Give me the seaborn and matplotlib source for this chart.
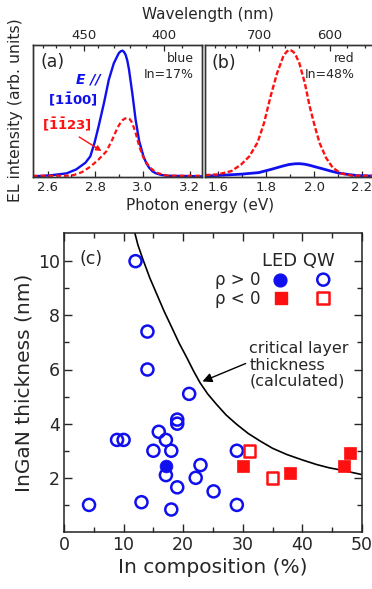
import matplotlib
matplotlib.use("Agg")
import matplotlib.pyplot as plt
import seaborn as sns

# ---------------- data ----------------
# Panel (a): blue LED, In=17%
Ea_blue = [2.537, 2.61, 2.68, 2.72, 2.759, 2.78, 2.798, 2.815, 2.837, 2.858, 2.879, 2.892, 2.90,
           2.908, 2.915, 2.922, 2.929, 2.936, 2.943, 2.957, 2.971, 2.986, 3.004, 3.016, 3.028,
           3.042, 3.057, 3.08, 3.106, 3.255]
Ia_blue = [0.0, 0.008, 0.024, 0.055, 0.108, 0.16, 0.27, 0.40, 0.58, 0.77, 0.90, 0.95, 0.98,
           0.995, 1.0, 0.99, 0.966, 0.92, 0.85, 0.66, 0.45, 0.28, 0.16, 0.105, 0.069,
           0.04, 0.024, 0.011, 0.005, 0.0]
Ea_red = [2.537, 2.68, 2.709, 2.745, 2.78, 2.815, 2.848, 2.872, 2.894, 2.905, 2.915, 2.926,
          2.936, 2.945, 2.953, 2.962, 2.971, 2.986, 3.004, 3.028, 3.057, 3.106, 3.255]
Ia_red = [0.005, 0.005, 0.01, 0.034, 0.077, 0.135, 0.20, 0.29, 0.385, 0.42, 0.446, 0.46,
          0.465, 0.457, 0.438, 0.395, 0.346, 0.24, 0.148, 0.077, 0.03, 0.005, 0.005]

# Panel (b): red LED, In=48%
Eb_red = [1.547, 1.60, 1.656, 1.697, 1.731, 1.765, 1.792, 1.819, 1.846, 1.871, 1.883, 1.894,
          1.904, 1.914, 1.926, 1.939, 1.962, 1.982, 2.003, 2.023, 2.05, 2.078, 2.112, 2.159, 2.254]
Ib_red = [0.01, 0.016, 0.042, 0.095, 0.16, 0.27, 0.425, 0.636, 0.82, 0.95, 0.985, 1.005,
          1.002, 0.99, 0.955, 0.90, 0.74, 0.556, 0.40, 0.267, 0.148, 0.069, 0.024, 0.005, 0.005]
Eb_blue = [1.547, 1.608, 1.70, 1.77, 1.82, 1.866, 1.895, 1.92, 1.94, 1.96, 1.98, 2.003, 2.04,
           2.07, 2.10, 2.139, 2.18, 2.254]
Ib_blue = [0.003, 0.008, 0.018, 0.03, 0.055, 0.08, 0.094, 0.10, 0.101, 0.097, 0.089, 0.077,
           0.058, 0.042, 0.028, 0.016, 0.006, 0.002]

wl_major_a = [450, 400]
wl_minor_a = [480, 470, 460, 440, 430, 420, 410, 390, 380]
wl_major_b = [700, 600]
wl_minor_b = [780, 760, 740, 720, 680, 660, 640, 620, 580, 560]

# Panel (c)
qw_pos_x = [4.2, 8.9, 10.0, 12.0, 13.0, 14.0, 14.0, 15.0, 15.9, 17.1, 17.1, 18.0, 18.0, 19.0,
            19.0, 19.0, 21.0, 22.1, 22.9, 25.1, 29.0, 29.0]
qw_pos_y = [1.0, 3.4, 3.4, 10.0, 1.1, 7.4, 6.0, 3.0, 3.7, 3.4, 2.1, 3.0, 0.83, 4.15,
            4.0, 1.65, 5.1, 2.0, 2.47, 1.5, 3.0, 1.0]
led_pos_x = [17.1]
led_pos_y = [2.45]
qw_neg_x = [31.1, 35.0]
qw_neg_y = [3.0, 2.0]
led_neg_x = [30.0, 38.0, 47.0, 48.0]
led_neg_y = [2.43, 2.18, 2.45, 2.93]

crit_x = [11.63, 12.4, 13.3, 14.4, 15.55, 16.8, 18.07, 19.3, 20.6, 21.7, 22.8, 24.1, 25.6,
          27.2, 29.0, 30.9, 32.9, 35.0, 37.4, 40.0, 42.4, 44.5, 46.9, 48.5, 50.0]
crit_y = [11.26, 10.6, 10.03, 9.38, 8.79, 8.15, 7.56, 6.98, 6.44, 5.96, 5.52, 5.10, 4.71,
          4.32, 3.97, 3.64, 3.36, 3.09, 2.86, 2.66, 2.49, 2.37, 2.27, 2.19, 2.12]

# ---------------- style ----------------
sns.set_theme(style="ticks")
plt.rcParams['font.family'] = ['DejaVu Sans']
plt.rcParams['mathtext.fontset'] = 'dejavusans'

TXT = "#262626"
BLUE = "#1010ee"
RED = "#ff1010"
HC = 1239.84

W, H = 372, 589
fig = plt.figure(figsize=(W / 100, H / 100), dpi=100)


def rect(l, t, r, b):
    return [l / W, 1 - b / H, (r - l) / W, (b - t) / H]


ax_a = fig.add_axes(rect(33, 45, 202, 177))
ax_b = fig.add_axes(rect(205, 45, 375, 177))
ax_c = fig.add_axes(rect(64, 233, 362, 532))


def style_top(ax, xlim, major, minor, wl_major, wl_minor):
    ax.set_xlim(*xlim)
    ax.set_ylim(-0.005, 1.045)
    ax.set_yticks([])
    ax.set_xticks(major)
    ax.set_xticks(minor, minor=True)
    ax.set_xticklabels([f"{v:.1f}" for v in major])
    ax.tick_params(axis='x', which='major', direction='in', length=4, width=0.9,
                   labelsize=9.5, pad=3, colors=TXT)
    ax.tick_params(axis='x', which='minor', direction='in', length=2.5, width=0.9, colors=TXT)
    for s in ax.spines.values():
        s.set_linewidth(1.0)
        s.set_color("#333333")
    ax2 = ax.twiny()
    ax2.set_xlim(*xlim)
    ax2.set_xticks([HC / w for w in wl_major])
    ax2.set_xticklabels([str(w) for w in wl_major])
    ax2.set_xticks([HC / w for w in wl_minor], minor=True)
    ax2.tick_params(axis='x', which='major', direction='in', length=4, width=0.9,
                    labelsize=9.5, pad=2, colors=TXT)
    ax2.tick_params(axis='x', which='minor', direction='in', length=2.5, width=0.9, colors=TXT)
    for s in ax2.spines.values():
        s.set_linewidth(1.0)
        s.set_color("#333333")
    return ax2


# Panel (a)
sns.lineplot(x=Ea_blue, y=Ia_blue, ax=ax_a, sort=False, estimator=None, color=BLUE, lw=1.7)
sns.lineplot(x=Ea_red, y=Ia_red, ax=ax_a, sort=False, estimator=None, color=RED,
             lw=1.6, linestyle=(0, (2.2, 1.3)))
style_top(ax_a, (2.538, 3.251), [2.6, 2.8, 3.0, 3.2], [2.7, 2.9, 3.1], wl_major_a, wl_minor_a)
ax_a.text(0.046, 0.873, "(a)", transform=ax_a.transAxes, fontsize=12.5, color=TXT,
          ha='left', va='center')
ax_a.text(0.954, 0.899, "blue", transform=ax_a.transAxes, fontsize=9, color=TXT,
          ha='right', va='center')
ax_a.text(0.954, 0.773, "In=17%", transform=ax_a.transAxes, fontsize=9, color=TXT,
          ha='right', va='center')
ax_a.text(2.823, 0.77, "E //", fontsize=10, color=BLUE, ha='right', va='center',
          fontweight='bold', fontstyle='italic')
ax_a.text(2.811, 0.61, r"$\mathbf{[1\bar{1}00]}$", fontsize=9.5, color=BLUE,
          ha='right', va='center')
ax_a.text(2.681, 0.41, r"$\mathbf{[\bar{1}\bar{1}23]}$", fontsize=9.5, color=RED,
          ha='center', va='center')
ax_a.annotate("", xy=(2.837, 0.19), xytext=(2.723, 0.325),
              arrowprops=dict(arrowstyle='-|>', color=RED, lw=1.0, mutation_scale=8))
ax_a.set_xlabel("")
ax_a.set_ylabel("")

# Panel (b)
sns.lineplot(x=Eb_blue, y=Ib_blue, ax=ax_b, sort=False, estimator=None, color=BLUE, lw=2.0)
sns.lineplot(x=Eb_red, y=Ib_red, ax=ax_b, sort=False, estimator=None, color=RED,
             lw=1.7, linestyle=(0, (2.2, 1.0)))
style_top(ax_b, (1.546, 2.254), [1.6, 1.8, 2.0, 2.2], [1.7, 1.9, 2.1], wl_major_b, wl_minor_b)
ax_b.text(0.04, 0.861, "(b)", transform=ax_b.transAxes, fontsize=12.5, color=TXT,
          ha='left', va='center')
ax_b.text(0.88, 0.899, "red", transform=ax_b.transAxes, fontsize=9, color=TXT,
          ha='right', va='center')
ax_b.text(0.88, 0.773, "In=48%", transform=ax_b.transAxes, fontsize=9, color=TXT,
          ha='right', va='center')
ax_b.set_xlabel("")
ax_b.set_ylabel("")

fig.text(208 / W, 1 - 14 / H, "Wavelength (nm)", fontsize=11, color=TXT, ha='center', va='center')
fig.text(200 / W, 1 - 205 / H, "Photon energy (eV)", fontsize=11, color=TXT, ha='center', va='center')
fig.text(16 / W, 1 - 110 / H, "EL intensity (arb. units)", fontsize=11.3, color=TXT,
         ha='center', va='center', rotation=90)

# Panel (c)
sns.lineplot(x=crit_x, y=crit_y, ax=ax_c, sort=False, estimator=None, color='black', lw=1.2)
sns.scatterplot(x=qw_pos_x, y=qw_pos_y, ax=ax_c, marker='o', s=75, facecolors='none',
                edgecolors=BLUE, linewidths=1.8, zorder=3)
sns.scatterplot(x=led_pos_x, y=led_pos_y, ax=ax_c, marker='o', s=85, color=BLUE,
                edgecolor=BLUE, linewidth=0.5, zorder=4)
sns.scatterplot(x=qw_neg_x, y=qw_neg_y, ax=ax_c, marker='s', s=70, facecolors='none',
                edgecolors=RED, linewidths=1.8, zorder=3)
sns.scatterplot(x=led_neg_x, y=led_neg_y, ax=ax_c, marker='s', s=80, color=RED,
                edgecolor=RED, linewidth=0.5, zorder=3)

ax_c.set_xlim(0, 50)
ax_c.set_ylim(0, 11.04)
ax_c.set_xticks([0, 10, 20, 30, 40, 50])
ax_c.set_xticks([5, 15, 25, 35, 45], minor=True)
ax_c.set_yticks([2, 4, 6, 8, 10])
ax_c.set_yticks([1, 3, 5, 7, 9], minor=True)
ax_c.tick_params(which='major', direction='in', length=6, width=1.0, labelsize=12.5,
                 colors=TXT, top=True, right=True, pad=3)
ax_c.tick_params(which='minor', direction='in', length=3.5, width=1.0,
                 top=True, right=True, colors=TXT)
for s in ax_c.spines.values():
    s.set_linewidth(1.1)
    s.set_color("#222222")
ax_c.set_xlabel("In composition (%)", fontsize=14.5, color=TXT, labelpad=3)
ax_c.set_ylabel("InGaN thickness (nm)", fontsize=14.5, color=TXT, labelpad=3)

ax_c.text(0.051, 0.912, "(c)", transform=ax_c.transAxes, fontsize=12.5, color=TXT,
          ha='left', va='center')
ax_c.text(0.786, 0.905, "LED QW", transform=ax_c.transAxes, fontsize=13, color=TXT,
          ha='center', va='center')
ax_c.text(0.66, 0.844, "ρ > 0", transform=ax_c.transAxes, fontsize=12, color=TXT,
          ha='right', va='center')
ax_c.text(0.66, 0.779, "ρ < 0", transform=ax_c.transAxes, fontsize=12, color=TXT,
          ha='right', va='center')
ax_c.scatter([0.725], [0.844], transform=ax_c.transAxes, marker='o', s=85, color=BLUE,
             clip_on=False, zorder=5)
ax_c.scatter([0.870], [0.844], transform=ax_c.transAxes, marker='o', s=75, facecolors='none',
             edgecolors=BLUE, linewidths=1.8, clip_on=False, zorder=5)
ax_c.scatter([0.728], [0.783], transform=ax_c.transAxes, marker='s', s=80, color=RED,
             clip_on=False, zorder=5)
ax_c.scatter([0.870], [0.783], transform=ax_c.transAxes, marker='s', s=70, facecolors='none',
             edgecolors=RED, linewidths=1.8, clip_on=False, zorder=5)

ax_c.text(31.1, 6.16, "critical layer\nthickness\n(calculated)", fontsize=11.5, color=TXT,
          ha='left', va='center', linespacing=1.1)
ax_c.annotate("", xy=(22.8, 5.52), xytext=(30.9, 6.26),
              arrowprops=dict(arrowstyle='-|>', color='black', lw=1.0, mutation_scale=14))

fig.savefig("out.png", dpi=100)
